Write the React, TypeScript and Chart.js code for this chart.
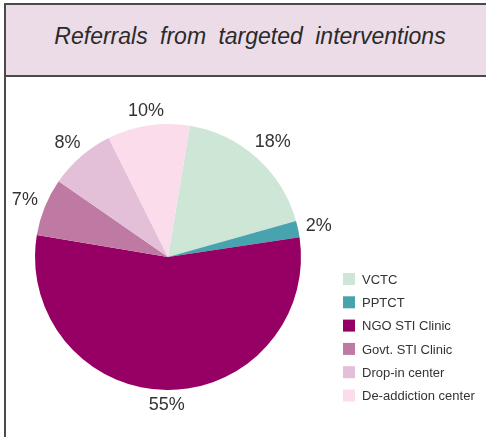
import React, { useEffect, useRef } from 'react';
import { Chart, registerables } from 'chart.js';

Chart.register(...registerables);

const chartTitle = 'Referrals from targeted interventions';
const categories = [
  'VCTC',
  'PPTCT',
  'NGO STI Clinic',
  'Govt. STI Clinic',
  'Drop-in center',
  'De-addiction center',
];
const shares = [18, 2, 55, 7, 8, 10];
const sliceColors = ['#cde6d5', '#47a3ae', '#960064', '#bf7aa3', '#e3bfd8', '#fbdcea'];

const FONT = '"Liberation Sans", Arial, Helvetica, sans-serif';

const pctLabels = {
  id: 'pctLabels',
  afterDatasetsDraw(chart: any) {
    const ctx = chart.ctx;
    const meta = chart.getDatasetMeta(0);
    const ds = chart.data.datasets[0];
    const size = 18;
    const capH = 0.716 * size;
    ctx.save();
    ctx.font = `${size}px ${FONT}`;
    ctx.fillStyle = '#333333';
    ctx.textAlign = 'center';
    ctx.textBaseline = 'alphabetic';
    meta.data.forEach((arc: any, i: number) => {
      const p = arc.getProps(['x', 'y', 'startAngle', 'endAngle', 'outerRadius'], true);
      const mid = (p.startAngle + p.endAngle) / 2;
      const c = Math.cos(mid);
      const s = Math.sin(mid);
      const txt = ds.data[i] + '%';
      const hw = ctx.measureText(txt).width / 2;
      const d = p.outerRadius + 7 + Math.abs(c) * hw + Math.abs(s) * capH / 2;
      ctx.fillText(txt, p.x + c * d, p.y + s * d + capH / 2);
    });
    ctx.restore();
  },
};

const sideLegend = {
  id: 'sideLegend',
  afterDraw(chart: any, _args: any, opts: any) {
    const ctx = chart.ctx;
    const labels = chart.data.labels as string[];
    const colors = chart.data.datasets[0].backgroundColor as string[];
    ctx.save();
    ctx.font = `13px ${FONT}`;
    ctx.textAlign = 'left';
    ctx.textBaseline = 'alphabetic';
    labels.forEach((lab, i) => {
      const top = opts.y + i * opts.step;
      ctx.fillStyle = colors[i];
      ctx.fillRect(opts.x, top, 12, 12);
      ctx.fillStyle = '#333333';
      ctx.fillText(lab, opts.x + 19, top + 10.8);
    });
    ctx.restore();
  },
};

export default function App() {
  const canvasRef = useRef<HTMLCanvasElement | null>(null);

  useEffect(() => {
    if (!canvasRef.current) return;
    const chart = new Chart(canvasRef.current, {
      type: 'pie',
      data: {
        labels: categories,
        datasets: [
          {
            data: shares,
            backgroundColor: sliceColors,
            borderWidth: 0,
          },
        ],
      },
      options: {
        responsive: false,
        animation: false,
        rotation: 9.5,
        layout: { padding: { left: 35, top: 124, right: 185, bottom: 47 } },
        plugins: {
          legend: { display: false },
          tooltip: { enabled: false },
          title: { display: false },
          sideLegend: { x: 343, y: 273, step: 23.3 },
        } as any,
      },
      plugins: [pctLabels, sideLegend],
    });
    return () => chart.destroy();
  }, []);

  return (
    <div
      style={{
        position: 'absolute',
        left: 0,
        top: 0,
        width: 486,
        height: 437,
        overflow: 'hidden',
        background: '#ffffff',
        fontFamily: FONT,
      }}
    >
      <div
        style={{
          position: 'absolute',
          left: 4,
          top: 3,
          width: 540,
          height: 480,
          borderLeft: '2px solid #4a4a4a',
          borderTop: '2px solid #4a4a4a',
        }}
      />
      <div
        style={{
          position: 'absolute',
          left: 6,
          top: 5,
          width: 540,
          height: 70,
          background: '#ecdce8',
          borderBottom: '2px solid #4a4a4a',
        }}
      />
      <div
        style={{
          position: 'absolute',
          left: 0,
          top: 25,
          width: 500,
          textAlign: 'center',
          fontSize: 23,
          lineHeight: '23px',
          fontStyle: 'italic',
          wordSpacing: 6,
          color: '#2a2a2a',
          whiteSpace: 'nowrap',
        }}
      >
        {chartTitle}
      </div>
      <canvas
        ref={canvasRef}
        width={486}
        height={437}
        style={{ position: 'absolute', left: 0, top: 0, width: 486, height: 437 }}
      />
    </div>
  );
}
